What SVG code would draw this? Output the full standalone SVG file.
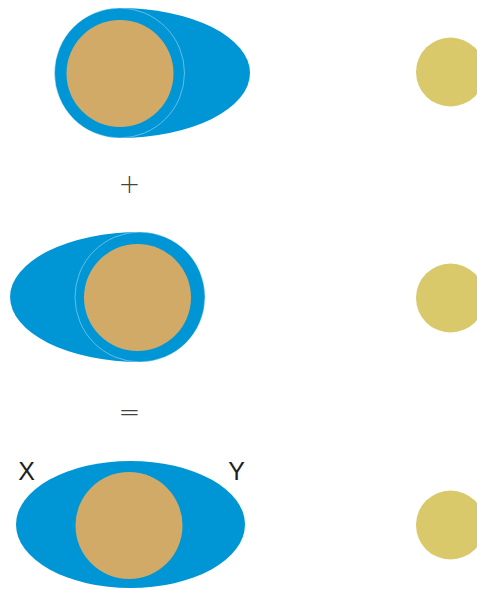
<svg xmlns="http://www.w3.org/2000/svg" width="477" height="590" viewBox="0 0 477 590">
<style>
.blue{fill:#0096d6}
.core{fill:#d2aa67}
.sun{fill:#d9c96b}
.rim{fill:#0096d6;stroke:#ffffff;stroke-opacity:0.55;stroke-width:0.7}
.op{font-family:"DejaVu Sans",sans-serif;font-weight:200;font-size:26px;fill:#444;text-anchor:middle}
.lbl{font-family:"Liberation Sans",Arial,sans-serif;font-size:25px;fill:#231f20;text-anchor:middle}
</style>
<rect width="477" height="590" fill="#fff"/>
<g id="shape1">
<path class="blue" d="M119.5,8 A130.5,65 0 0 1 119.5,138 Z"/>
<circle class="rim" cx="119.5" cy="73" r="65"/>
<circle class="core" cx="120" cy="73.5" r="53.5"/>
</g>
<g id="shape2">
<path class="blue" d="M140,232 A130,65 0 0 0 140,362 Z"/>
<circle class="rim" cx="140" cy="297" r="65"/>
<circle class="core" cx="137.5" cy="297.5" r="53.5"/>
</g>
<g id="shape3">
<ellipse class="blue" cx="130.5" cy="524.5" rx="114.5" ry="63.5"/>
<circle class="core" cx="129" cy="525.5" r="53.5"/>
</g>
<g id="sun1"><circle class="sun" cx="450.5" cy="72" r="34.5"/></g>
<g id="sun2"><circle class="sun" cx="450.5" cy="298" r="34.5"/></g>
<g id="sun3"><circle class="sun" cx="450.5" cy="525" r="34.5"/></g>
<g id="ops">
<text class="op" x="129.5" y="193">+</text>
<text class="op" x="129.5" y="421">=</text>
</g>
<g id="labels">
<text class="lbl" x="26.5" y="480">X</text>
<text class="lbl" x="236.5" y="480">Y</text>
</g>
</svg>
